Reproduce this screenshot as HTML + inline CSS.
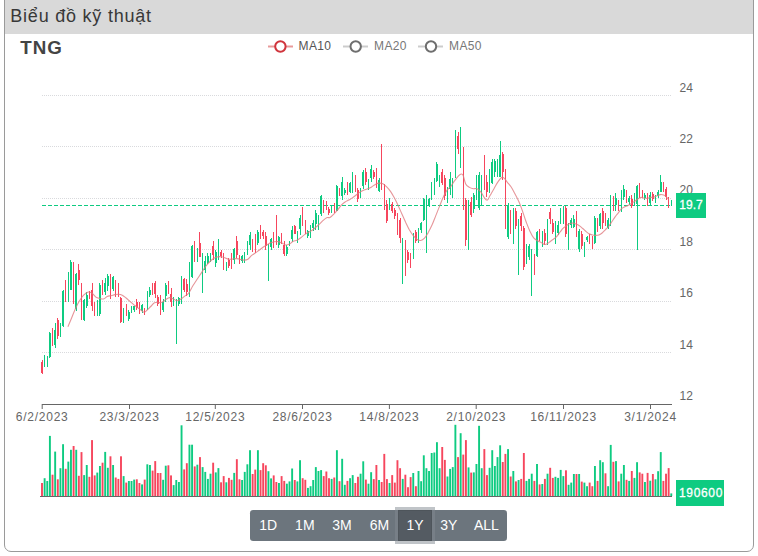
<!DOCTYPE html>
<html><head><meta charset="utf-8">
<style>
html,body{margin:0;padding:0;background:#fff;}
body{width:758px;height:556px;position:relative;overflow:hidden;font-family:"Liberation Sans",sans-serif;}
.card{position:absolute;left:4px;top:-12px;width:748px;height:562px;border:1px solid #9a9a9a;border-radius:7px;box-sizing:content-box;}
.hdr{position:absolute;left:5px;top:0;width:748px;height:34px;background:#d9d9d9;}
svg{position:absolute;left:0;top:0;}
.btns{position:absolute;left:250px;top:510px;width:257.4px;height:30.5px;background:#6c757d;border-radius:3.2px;}
.b{position:absolute;top:510px;height:30px;line-height:30px;font-size:14px;color:#fff;text-align:center;}
.shadow{position:absolute;left:394.8px;top:506.8px;width:40.4px;height:36.9px;background:rgba(130,138,145,0.5);}
.act{position:absolute;left:398px;top:510px;width:32px;height:28.5px;background:#545b62;border:1px solid #4e555b;}
</style></head><body>
<div class="card"></div>
<div class="hdr"></div>

<svg width="758" height="556" viewBox="0 0 758 556">
<text x="10.3" y="21.6" font-family="'Liberation Sans', sans-serif" font-size="18" fill="#383838" letter-spacing="0.78">Biểu đồ kỹ thuật</text>
<text x="20.3" y="53.8" font-family="'Liberation Sans', sans-serif" font-size="18.8" font-weight="bold" fill="#444" letter-spacing="0.9">TNG</text>
<g font-family="'Liberation Sans', sans-serif" font-size="12" fill="#555" letter-spacing="0.4">
<line x1="268" y1="46.5" x2="293" y2="46.5" stroke="#e89a9a" stroke-width="2"/>
<circle cx="280.4" cy="46.5" r="5.2" fill="#fff" stroke="#d0343c" stroke-width="2"/>
<text x="298.5" y="49.8" fill="#555">MA10</text>
<line x1="343" y1="46.5" x2="368" y2="46.5" stroke="#cccccc" stroke-width="2"/>
<circle cx="355.7" cy="46.5" r="5.2" fill="#fff" stroke="#6e6e6e" stroke-width="2"/>
<text x="374" y="49.8" fill="#777">MA20</text>
<line x1="418" y1="46.5" x2="443" y2="46.5" stroke="#cccccc" stroke-width="2"/>
<circle cx="431" cy="46.5" r="5.2" fill="#fff" stroke="#6e6e6e" stroke-width="2"/>
<text x="449" y="49.8" fill="#777">MA50</text>
</g>
<line x1="42" y1="95.5" x2="672" y2="95.5" stroke="#d9dadd" stroke-width="1" stroke-dasharray="1,1"/>
<line x1="42" y1="146.5" x2="672" y2="146.5" stroke="#d9dadd" stroke-width="1" stroke-dasharray="1,1"/>
<line x1="42" y1="198.5" x2="672" y2="198.5" stroke="#d9dadd" stroke-width="1" stroke-dasharray="1,1"/>
<line x1="42" y1="249.5" x2="672" y2="249.5" stroke="#d9dadd" stroke-width="1" stroke-dasharray="1,1"/>
<line x1="42" y1="301.5" x2="672" y2="301.5" stroke="#d9dadd" stroke-width="1" stroke-dasharray="1,1"/>
<line x1="42" y1="352.5" x2="672" y2="352.5" stroke="#d9dadd" stroke-width="1" stroke-dasharray="1,1"/>
<g font-family="'Liberation Sans', sans-serif" font-size="12" fill="#666">
<text x="679.5" y="91.5">24</text>
<text x="679.5" y="142.9">22</text>
<text x="679.5" y="194.4">20</text>
<text x="679.5" y="245.8">18</text>
<text x="679.5" y="297.3">16</text>
<text x="679.5" y="348.7">14</text>
<text x="679.5" y="400.1">12</text>
<line x1="42.2" y1="404" x2="42.2" y2="409" stroke="#666" stroke-width="1"/>
<text x="42.2" y="420.5" text-anchor="middle" letter-spacing="0.75">6/2/2023</text>
<line x1="129.5" y1="404" x2="129.5" y2="409" stroke="#666" stroke-width="1"/>
<text x="129.5" y="420.5" text-anchor="middle" letter-spacing="0.75">23/3/2023</text>
<line x1="215.3" y1="404" x2="215.3" y2="409" stroke="#666" stroke-width="1"/>
<text x="215.3" y="420.5" text-anchor="middle" letter-spacing="0.75">12/5/2023</text>
<line x1="302.5" y1="404" x2="302.5" y2="409" stroke="#666" stroke-width="1"/>
<text x="302.5" y="420.5" text-anchor="middle" letter-spacing="0.75">28/6/2023</text>
<line x1="389.4" y1="404" x2="389.4" y2="409" stroke="#666" stroke-width="1"/>
<text x="389.4" y="420.5" text-anchor="middle" letter-spacing="0.75">14/8/2023</text>
<line x1="476.2" y1="404" x2="476.2" y2="409" stroke="#666" stroke-width="1"/>
<text x="476.2" y="420.5" text-anchor="middle" letter-spacing="0.75">2/10/2023</text>
<line x1="563.5" y1="404" x2="563.5" y2="409" stroke="#666" stroke-width="1"/>
<text x="563.5" y="420.5" text-anchor="middle" letter-spacing="0.75">16/11/2023</text>
<line x1="650.5" y1="404" x2="650.5" y2="409" stroke="#666" stroke-width="1"/>
<text x="650.5" y="420.5" text-anchor="middle" letter-spacing="0.75">3/1/2024</text>
</g>
<line x1="42" y1="404.5" x2="672" y2="404.5" stroke="#666" stroke-width="1"/>
<line x1="42" y1="205.5" x2="672" y2="205.5" stroke="#0ecb81" stroke-width="1" stroke-dasharray="4,2"/>
<g shape-rendering="crispEdges"><rect x="42" y="360" width="1" height="14" fill="#f6465d"/>
<rect x="41" y="362" width="2" height="11" fill="#f6465d"/>
<rect x="44" y="355" width="1" height="12" fill="#0ecb81"/>
<rect x="44" y="358" width="1" height="8" fill="#0ecb81"/>
<rect x="47" y="356" width="1" height="11" fill="#0ecb81"/>
<rect x="47" y="358" width="1" height="7" fill="#0ecb81"/>
<rect x="49" y="332" width="1" height="26" fill="#0ecb81"/>
<rect x="49" y="333" width="2" height="24" fill="#0ecb81"/>
<rect x="52" y="328" width="1" height="18" fill="#f6465d"/>
<rect x="52" y="330" width="1" height="11" fill="#f6465d"/>
<rect x="55" y="323" width="1" height="25" fill="#0ecb81"/>
<rect x="54" y="330" width="2" height="15" fill="#0ecb81"/>
<rect x="57" y="318" width="1" height="21" fill="#f6465d"/>
<rect x="57" y="320" width="2" height="16" fill="#f6465d"/>
<rect x="60" y="323" width="1" height="14" fill="#0ecb81"/>
<rect x="60" y="325" width="1" height="9" fill="#0ecb81"/>
<rect x="63" y="290" width="1" height="37" fill="#0ecb81"/>
<rect x="62" y="291" width="2" height="35" fill="#0ecb81"/>
<rect x="65" y="280" width="1" height="22" fill="#f6465d"/>
<rect x="65" y="285" width="1" height="13" fill="#f6465d"/>
<rect x="68" y="272" width="1" height="30" fill="#0ecb81"/>
<rect x="68" y="278" width="1" height="13" fill="#0ecb81"/>
<rect x="70" y="260" width="1" height="30" fill="#0ecb81"/>
<rect x="70" y="262" width="2" height="28" fill="#0ecb81"/>
<rect x="73" y="262" width="1" height="42" fill="#f6465d"/>
<rect x="73" y="265" width="1" height="36" fill="#f6465d"/>
<rect x="76" y="273" width="1" height="38" fill="#0ecb81"/>
<rect x="75" y="274" width="2" height="35" fill="#0ecb81"/>
<rect x="78" y="264" width="1" height="21" fill="#f6465d"/>
<rect x="78" y="270" width="2" height="10" fill="#f6465d"/>
<rect x="81" y="283" width="1" height="37" fill="#f6465d"/>
<rect x="81" y="286" width="1" height="33" fill="#f6465d"/>
<rect x="84" y="299" width="1" height="22" fill="#0ecb81"/>
<rect x="83" y="300" width="2" height="20" fill="#0ecb81"/>
<rect x="86" y="292" width="1" height="16" fill="#0ecb81"/>
<rect x="86" y="295" width="2" height="11" fill="#0ecb81"/>
<rect x="89" y="291" width="1" height="8" fill="#f6465d"/>
<rect x="89" y="293" width="1" height="4" fill="#f6465d"/>
<rect x="92" y="283" width="1" height="28" fill="#f6465d"/>
<rect x="91" y="290" width="2" height="16" fill="#f6465d"/>
<rect x="94" y="302" width="1" height="14" fill="#f6465d"/>
<rect x="94" y="306" width="1" height="7" fill="#f6465d"/>
<rect x="97" y="300" width="1" height="16" fill="#0ecb81"/>
<rect x="97" y="304" width="1" height="9" fill="#0ecb81"/>
<rect x="99" y="283" width="1" height="33" fill="#0ecb81"/>
<rect x="99" y="285" width="2" height="29" fill="#0ecb81"/>
<rect x="102" y="280" width="1" height="15" fill="#f6465d"/>
<rect x="102" y="284" width="1" height="9" fill="#f6465d"/>
<rect x="105" y="278" width="1" height="17" fill="#0ecb81"/>
<rect x="104" y="283" width="2" height="9" fill="#0ecb81"/>
<rect x="107" y="274" width="1" height="17" fill="#0ecb81"/>
<rect x="107" y="276" width="2" height="10" fill="#0ecb81"/>
<rect x="110" y="274" width="1" height="25" fill="#f6465d"/>
<rect x="110" y="280" width="1" height="14" fill="#f6465d"/>
<rect x="113" y="276" width="1" height="15" fill="#0ecb81"/>
<rect x="112" y="277" width="2" height="12" fill="#0ecb81"/>
<rect x="115" y="280" width="1" height="17" fill="#f6465d"/>
<rect x="115" y="285" width="1" height="8" fill="#f6465d"/>
<rect x="118" y="283" width="1" height="14" fill="#f6465d"/>
<rect x="118" y="285" width="1" height="9" fill="#f6465d"/>
<rect x="120" y="297" width="1" height="26" fill="#f6465d"/>
<rect x="120" y="298" width="2" height="24" fill="#f6465d"/>
<rect x="123" y="308" width="1" height="15" fill="#0ecb81"/>
<rect x="123" y="311" width="1" height="9" fill="#0ecb81"/>
<rect x="126" y="304" width="1" height="12" fill="#f6465d"/>
<rect x="126" y="306" width="1" height="9" fill="#f6465d"/>
<rect x="128" y="310" width="1" height="11" fill="#0ecb81"/>
<rect x="128" y="312" width="2" height="7" fill="#0ecb81"/>
<rect x="131" y="306" width="1" height="7" fill="#0ecb81"/>
<rect x="131" y="308" width="1" height="4" fill="#0ecb81"/>
<rect x="134" y="306" width="1" height="6" fill="#0ecb81"/>
<rect x="133" y="306" width="2" height="4" fill="#0ecb81"/>
<rect x="136" y="299" width="1" height="11" fill="#f6465d"/>
<rect x="136" y="302" width="2" height="6" fill="#f6465d"/>
<rect x="139" y="302" width="1" height="12" fill="#f6465d"/>
<rect x="139" y="305" width="1" height="6" fill="#f6465d"/>
<rect x="142" y="304" width="1" height="9" fill="#0ecb81"/>
<rect x="141" y="305" width="2" height="6" fill="#0ecb81"/>
<rect x="144" y="308" width="1" height="7" fill="#f6465d"/>
<rect x="144" y="309" width="1" height="5" fill="#f6465d"/>
<rect x="147" y="291" width="1" height="19" fill="#0ecb81"/>
<rect x="147" y="296" width="1" height="11" fill="#0ecb81"/>
<rect x="149" y="287" width="1" height="10" fill="#0ecb81"/>
<rect x="149" y="290" width="2" height="5" fill="#0ecb81"/>
<rect x="152" y="283" width="1" height="12" fill="#f6465d"/>
<rect x="152" y="286" width="1" height="8" fill="#f6465d"/>
<rect x="155" y="281" width="1" height="17" fill="#f6465d"/>
<rect x="154" y="283" width="2" height="11" fill="#f6465d"/>
<rect x="157" y="295" width="1" height="11" fill="#f6465d"/>
<rect x="157" y="297" width="2" height="7" fill="#f6465d"/>
<rect x="160" y="295" width="1" height="20" fill="#f6465d"/>
<rect x="160" y="300" width="1" height="9" fill="#f6465d"/>
<rect x="163" y="299" width="1" height="13" fill="#0ecb81"/>
<rect x="162" y="302" width="2" height="8" fill="#0ecb81"/>
<rect x="165" y="283" width="1" height="19" fill="#0ecb81"/>
<rect x="165" y="285" width="2" height="11" fill="#0ecb81"/>
<rect x="168" y="281" width="1" height="13" fill="#f6465d"/>
<rect x="168" y="283" width="1" height="8" fill="#f6465d"/>
<rect x="171" y="288" width="1" height="19" fill="#f6465d"/>
<rect x="170" y="294" width="2" height="8" fill="#f6465d"/>
<rect x="173" y="297" width="1" height="9" fill="#0ecb81"/>
<rect x="173" y="300" width="1" height="4" fill="#0ecb81"/>
<rect x="176" y="299" width="1" height="45" fill="#0ecb81"/>
<rect x="176" y="299" width="1" height="7" fill="#0ecb81"/>
<rect x="178" y="297" width="1" height="9" fill="#0ecb81"/>
<rect x="178" y="298" width="2" height="6" fill="#0ecb81"/>
<rect x="181" y="276" width="1" height="28" fill="#0ecb81"/>
<rect x="181" y="282" width="1" height="19" fill="#0ecb81"/>
<rect x="184" y="278" width="1" height="14" fill="#f6465d"/>
<rect x="183" y="279" width="2" height="11" fill="#f6465d"/>
<rect x="186" y="279" width="1" height="17" fill="#f6465d"/>
<rect x="186" y="284" width="2" height="8" fill="#f6465d"/>
<rect x="189" y="262" width="1" height="35" fill="#0ecb81"/>
<rect x="189" y="264" width="1" height="32" fill="#0ecb81"/>
<rect x="192" y="245" width="1" height="33" fill="#0ecb81"/>
<rect x="191" y="246" width="2" height="31" fill="#0ecb81"/>
<rect x="194" y="241" width="1" height="21" fill="#f6465d"/>
<rect x="194" y="246" width="1" height="13" fill="#f6465d"/>
<rect x="197" y="248" width="1" height="14" fill="#0ecb81"/>
<rect x="197" y="251" width="1" height="7" fill="#0ecb81"/>
<rect x="199" y="232" width="1" height="25" fill="#f6465d"/>
<rect x="199" y="243" width="2" height="14" fill="#f6465d"/>
<rect x="202" y="253" width="1" height="40" fill="#0ecb81"/>
<rect x="202" y="255" width="1" height="20" fill="#0ecb81"/>
<rect x="205" y="256" width="1" height="17" fill="#0ecb81"/>
<rect x="204" y="261" width="2" height="9" fill="#0ecb81"/>
<rect x="207" y="253" width="1" height="11" fill="#0ecb81"/>
<rect x="207" y="256" width="2" height="7" fill="#0ecb81"/>
<rect x="210" y="253" width="1" height="9" fill="#0ecb81"/>
<rect x="210" y="254" width="1" height="5" fill="#0ecb81"/>
<rect x="213" y="241" width="1" height="19" fill="#f6465d"/>
<rect x="212" y="246" width="2" height="9" fill="#f6465d"/>
<rect x="215" y="250" width="1" height="17" fill="#0ecb81"/>
<rect x="215" y="252" width="2" height="11" fill="#0ecb81"/>
<rect x="218" y="239" width="1" height="21" fill="#0ecb81"/>
<rect x="218" y="245" width="1" height="12" fill="#0ecb81"/>
<rect x="221" y="250" width="1" height="8" fill="#f6465d"/>
<rect x="220" y="252" width="2" height="4" fill="#f6465d"/>
<rect x="223" y="253" width="1" height="17" fill="#f6465d"/>
<rect x="223" y="256" width="1" height="9" fill="#f6465d"/>
<rect x="226" y="262" width="1" height="9" fill="#0ecb81"/>
<rect x="226" y="264" width="1" height="5" fill="#0ecb81"/>
<rect x="228" y="258" width="1" height="10" fill="#f6465d"/>
<rect x="228" y="260" width="2" height="6" fill="#f6465d"/>
<rect x="231" y="253" width="1" height="16" fill="#f6465d"/>
<rect x="231" y="256" width="1" height="9" fill="#f6465d"/>
<rect x="234" y="248" width="1" height="16" fill="#0ecb81"/>
<rect x="233" y="249" width="2" height="11" fill="#0ecb81"/>
<rect x="236" y="236" width="1" height="22" fill="#f6465d"/>
<rect x="236" y="241" width="2" height="14" fill="#f6465d"/>
<rect x="239" y="255" width="1" height="9" fill="#f6465d"/>
<rect x="239" y="256" width="1" height="6" fill="#f6465d"/>
<rect x="242" y="255" width="1" height="8" fill="#0ecb81"/>
<rect x="241" y="256" width="2" height="5" fill="#0ecb81"/>
<rect x="244" y="252" width="1" height="11" fill="#0ecb81"/>
<rect x="244" y="255" width="1" height="7" fill="#0ecb81"/>
<rect x="247" y="241" width="1" height="14" fill="#0ecb81"/>
<rect x="247" y="245" width="1" height="7" fill="#0ecb81"/>
<rect x="250" y="232" width="1" height="18" fill="#0ecb81"/>
<rect x="249" y="235" width="2" height="10" fill="#0ecb81"/>
<rect x="252" y="239" width="1" height="13" fill="#f6465d"/>
<rect x="252" y="240" width="1" height="11" fill="#f6465d"/>
<rect x="255" y="234" width="1" height="19" fill="#f6465d"/>
<rect x="255" y="238" width="1" height="10" fill="#f6465d"/>
<rect x="257" y="230" width="1" height="15" fill="#0ecb81"/>
<rect x="257" y="232" width="2" height="11" fill="#0ecb81"/>
<rect x="260" y="225" width="1" height="14" fill="#f6465d"/>
<rect x="260" y="228" width="1" height="10" fill="#f6465d"/>
<rect x="263" y="230" width="1" height="9" fill="#f6465d"/>
<rect x="262" y="232" width="2" height="4" fill="#f6465d"/>
<rect x="265" y="232" width="1" height="18" fill="#f6465d"/>
<rect x="265" y="236" width="2" height="10" fill="#f6465d"/>
<rect x="268" y="244" width="1" height="37" fill="#0ecb81"/>
<rect x="268" y="244" width="1" height="25" fill="#0ecb81"/>
<rect x="271" y="238" width="1" height="12" fill="#0ecb81"/>
<rect x="270" y="239" width="2" height="8" fill="#0ecb81"/>
<rect x="273" y="232" width="1" height="16" fill="#f6465d"/>
<rect x="273" y="235" width="1" height="8" fill="#f6465d"/>
<rect x="276" y="215" width="1" height="30" fill="#f6465d"/>
<rect x="276" y="225" width="1" height="20" fill="#f6465d"/>
<rect x="278" y="236" width="1" height="12" fill="#0ecb81"/>
<rect x="278" y="237" width="2" height="8" fill="#0ecb81"/>
<rect x="281" y="233" width="1" height="11" fill="#f6465d"/>
<rect x="281" y="235" width="1" height="7" fill="#f6465d"/>
<rect x="284" y="241" width="1" height="15" fill="#f6465d"/>
<rect x="283" y="245" width="2" height="9" fill="#f6465d"/>
<rect x="286" y="245" width="1" height="11" fill="#0ecb81"/>
<rect x="286" y="247" width="2" height="7" fill="#0ecb81"/>
<rect x="289" y="241" width="1" height="5" fill="#0ecb81"/>
<rect x="289" y="242" width="1" height="3" fill="#0ecb81"/>
<rect x="292" y="226" width="1" height="16" fill="#0ecb81"/>
<rect x="291" y="230" width="2" height="9" fill="#0ecb81"/>
<rect x="294" y="225" width="1" height="9" fill="#f6465d"/>
<rect x="294" y="226" width="2" height="8" fill="#f6465d"/>
<rect x="297" y="231" width="1" height="12" fill="#0ecb81"/>
<rect x="297" y="234" width="1" height="7" fill="#0ecb81"/>
<rect x="300" y="215" width="1" height="20" fill="#0ecb81"/>
<rect x="299" y="218" width="2" height="11" fill="#0ecb81"/>
<rect x="302" y="207" width="1" height="19" fill="#f6465d"/>
<rect x="302" y="210" width="1" height="10" fill="#f6465d"/>
<rect x="305" y="220" width="1" height="14" fill="#f6465d"/>
<rect x="305" y="223" width="1" height="10" fill="#f6465d"/>
<rect x="307" y="230" width="1" height="8" fill="#0ecb81"/>
<rect x="307" y="231" width="2" height="5" fill="#0ecb81"/>
<rect x="310" y="225" width="1" height="13" fill="#0ecb81"/>
<rect x="310" y="227" width="1" height="9" fill="#0ecb81"/>
<rect x="313" y="220" width="1" height="11" fill="#0ecb81"/>
<rect x="312" y="223" width="2" height="5" fill="#0ecb81"/>
<rect x="315" y="210" width="1" height="20" fill="#0ecb81"/>
<rect x="315" y="213" width="2" height="11" fill="#0ecb81"/>
<rect x="318" y="215" width="1" height="15" fill="#0ecb81"/>
<rect x="318" y="219" width="1" height="7" fill="#0ecb81"/>
<rect x="321" y="195" width="1" height="21" fill="#0ecb81"/>
<rect x="320" y="196" width="2" height="18" fill="#0ecb81"/>
<rect x="323" y="200" width="1" height="13" fill="#f6465d"/>
<rect x="323" y="203" width="1" height="6" fill="#f6465d"/>
<rect x="326" y="201" width="1" height="9" fill="#f6465d"/>
<rect x="326" y="202" width="1" height="7" fill="#f6465d"/>
<rect x="328" y="207" width="1" height="8" fill="#f6465d"/>
<rect x="328" y="209" width="2" height="4" fill="#f6465d"/>
<rect x="331" y="205" width="1" height="8" fill="#0ecb81"/>
<rect x="331" y="207" width="1" height="5" fill="#0ecb81"/>
<rect x="334" y="203" width="1" height="10" fill="#f6465d"/>
<rect x="334" y="205" width="1" height="6" fill="#f6465d"/>
<rect x="336" y="185" width="1" height="26" fill="#0ecb81"/>
<rect x="336" y="186" width="2" height="25" fill="#0ecb81"/>
<rect x="339" y="188" width="1" height="8" fill="#f6465d"/>
<rect x="339" y="189" width="1" height="6" fill="#f6465d"/>
<rect x="342" y="177" width="1" height="23" fill="#0ecb81"/>
<rect x="341" y="182" width="2" height="14" fill="#0ecb81"/>
<rect x="344" y="188" width="1" height="7" fill="#0ecb81"/>
<rect x="344" y="190" width="2" height="3" fill="#0ecb81"/>
<rect x="347" y="182" width="1" height="13" fill="#f6465d"/>
<rect x="347" y="186" width="1" height="7" fill="#f6465d"/>
<rect x="350" y="182" width="1" height="11" fill="#0ecb81"/>
<rect x="349" y="183" width="2" height="9" fill="#0ecb81"/>
<rect x="352" y="172" width="1" height="21" fill="#0ecb81"/>
<rect x="352" y="177" width="1" height="13" fill="#0ecb81"/>
<rect x="355" y="175" width="1" height="17" fill="#f6465d"/>
<rect x="355" y="180" width="1" height="8" fill="#f6465d"/>
<rect x="357" y="188" width="1" height="14" fill="#f6465d"/>
<rect x="357" y="190" width="2" height="9" fill="#f6465d"/>
<rect x="360" y="188" width="1" height="10" fill="#0ecb81"/>
<rect x="360" y="189" width="1" height="7" fill="#0ecb81"/>
<rect x="363" y="170" width="1" height="19" fill="#0ecb81"/>
<rect x="362" y="172" width="2" height="14" fill="#0ecb81"/>
<rect x="365" y="168" width="1" height="17" fill="#f6465d"/>
<rect x="365" y="172" width="2" height="10" fill="#f6465d"/>
<rect x="368" y="179" width="1" height="11" fill="#0ecb81"/>
<rect x="368" y="182" width="1" height="6" fill="#0ecb81"/>
<rect x="371" y="165" width="1" height="17" fill="#0ecb81"/>
<rect x="370" y="169" width="2" height="9" fill="#0ecb81"/>
<rect x="373" y="170" width="1" height="9" fill="#f6465d"/>
<rect x="373" y="172" width="2" height="5" fill="#f6465d"/>
<rect x="376" y="168" width="1" height="20" fill="#f6465d"/>
<rect x="376" y="172" width="1" height="12" fill="#f6465d"/>
<rect x="379" y="178" width="1" height="14" fill="#0ecb81"/>
<rect x="378" y="180" width="2" height="11" fill="#0ecb81"/>
<rect x="381" y="144" width="1" height="46" fill="#f6465d"/>
<rect x="381" y="176" width="1" height="14" fill="#f6465d"/>
<rect x="384" y="184" width="1" height="26" fill="#f6465d"/>
<rect x="384" y="187" width="1" height="18" fill="#f6465d"/>
<rect x="386" y="200" width="1" height="23" fill="#f6465d"/>
<rect x="386" y="204" width="2" height="17" fill="#f6465d"/>
<rect x="389" y="198" width="1" height="12" fill="#0ecb81"/>
<rect x="389" y="201" width="1" height="8" fill="#0ecb81"/>
<rect x="392" y="202" width="1" height="11" fill="#f6465d"/>
<rect x="391" y="204" width="2" height="7" fill="#f6465d"/>
<rect x="394" y="208" width="1" height="11" fill="#f6465d"/>
<rect x="394" y="210" width="2" height="6" fill="#f6465d"/>
<rect x="397" y="213" width="1" height="22" fill="#f6465d"/>
<rect x="397" y="215" width="1" height="17" fill="#f6465d"/>
<rect x="400" y="218" width="1" height="25" fill="#f6465d"/>
<rect x="399" y="220" width="2" height="18" fill="#f6465d"/>
<rect x="402" y="238" width="1" height="46" fill="#0ecb81"/>
<rect x="402" y="238" width="1" height="14" fill="#0ecb81"/>
<rect x="405" y="240" width="1" height="36" fill="#f6465d"/>
<rect x="405" y="247" width="1" height="25" fill="#f6465d"/>
<rect x="407" y="250" width="1" height="13" fill="#f6465d"/>
<rect x="407" y="252" width="2" height="8" fill="#f6465d"/>
<rect x="410" y="253" width="1" height="15" fill="#f6465d"/>
<rect x="410" y="255" width="1" height="11" fill="#f6465d"/>
<rect x="413" y="233" width="1" height="26" fill="#0ecb81"/>
<rect x="413" y="235" width="1" height="19" fill="#0ecb81"/>
<rect x="415" y="230" width="1" height="13" fill="#f6465d"/>
<rect x="415" y="232" width="2" height="9" fill="#f6465d"/>
<rect x="418" y="228" width="1" height="15" fill="#0ecb81"/>
<rect x="418" y="232" width="1" height="9" fill="#0ecb81"/>
<rect x="421" y="222" width="1" height="11" fill="#0ecb81"/>
<rect x="420" y="223" width="2" height="7" fill="#0ecb81"/>
<rect x="423" y="198" width="1" height="23" fill="#0ecb81"/>
<rect x="423" y="199" width="2" height="21" fill="#0ecb81"/>
<rect x="426" y="195" width="1" height="58" fill="#0ecb81"/>
<rect x="426" y="195" width="1" height="24" fill="#0ecb81"/>
<rect x="429" y="198" width="1" height="9" fill="#0ecb81"/>
<rect x="428" y="199" width="2" height="6" fill="#0ecb81"/>
<rect x="431" y="182" width="1" height="18" fill="#0ecb81"/>
<rect x="431" y="185" width="1" height="10" fill="#0ecb81"/>
<rect x="434" y="178" width="1" height="17" fill="#0ecb81"/>
<rect x="434" y="179" width="1" height="14" fill="#0ecb81"/>
<rect x="436" y="162" width="1" height="20" fill="#0ecb81"/>
<rect x="436" y="164" width="2" height="17" fill="#0ecb81"/>
<rect x="439" y="175" width="1" height="12" fill="#0ecb81"/>
<rect x="439" y="179" width="1" height="5" fill="#0ecb81"/>
<rect x="442" y="169" width="1" height="16" fill="#f6465d"/>
<rect x="441" y="172" width="2" height="11" fill="#f6465d"/>
<rect x="444" y="175" width="1" height="25" fill="#f6465d"/>
<rect x="444" y="178" width="2" height="18" fill="#f6465d"/>
<rect x="447" y="187" width="1" height="16" fill="#0ecb81"/>
<rect x="447" y="189" width="1" height="10" fill="#0ecb81"/>
<rect x="450" y="172" width="1" height="23" fill="#0ecb81"/>
<rect x="449" y="179" width="2" height="10" fill="#0ecb81"/>
<rect x="452" y="178" width="1" height="20" fill="#0ecb81"/>
<rect x="452" y="181" width="1" height="13" fill="#0ecb81"/>
<rect x="455" y="130" width="1" height="48" fill="#0ecb81"/>
<rect x="455" y="141" width="1" height="37" fill="#0ecb81"/>
<rect x="458" y="132" width="1" height="22" fill="#f6465d"/>
<rect x="457" y="136" width="2" height="13" fill="#f6465d"/>
<rect x="460" y="127" width="1" height="41" fill="#0ecb81"/>
<rect x="460" y="134" width="1" height="26" fill="#0ecb81"/>
<rect x="463" y="147" width="1" height="63" fill="#f6465d"/>
<rect x="463" y="150" width="1" height="54" fill="#f6465d"/>
<rect x="465" y="198" width="1" height="48" fill="#f6465d"/>
<rect x="465" y="200" width="2" height="40" fill="#f6465d"/>
<rect x="468" y="200" width="1" height="50" fill="#0ecb81"/>
<rect x="468" y="201" width="1" height="47" fill="#0ecb81"/>
<rect x="471" y="197" width="1" height="20" fill="#f6465d"/>
<rect x="470" y="202" width="2" height="13" fill="#f6465d"/>
<rect x="473" y="193" width="1" height="20" fill="#0ecb81"/>
<rect x="473" y="195" width="2" height="14" fill="#0ecb81"/>
<rect x="476" y="175" width="1" height="25" fill="#0ecb81"/>
<rect x="476" y="180" width="1" height="13" fill="#0ecb81"/>
<rect x="479" y="172" width="1" height="38" fill="#0ecb81"/>
<rect x="478" y="175" width="2" height="33" fill="#0ecb81"/>
<rect x="481" y="175" width="1" height="30" fill="#0ecb81"/>
<rect x="481" y="184" width="1" height="16" fill="#0ecb81"/>
<rect x="484" y="155" width="1" height="35" fill="#f6465d"/>
<rect x="484" y="158" width="1" height="30" fill="#f6465d"/>
<rect x="486" y="175" width="1" height="22" fill="#f6465d"/>
<rect x="486" y="182" width="2" height="10" fill="#f6465d"/>
<rect x="489" y="169" width="1" height="24" fill="#0ecb81"/>
<rect x="489" y="175" width="1" height="15" fill="#0ecb81"/>
<rect x="492" y="159" width="1" height="25" fill="#0ecb81"/>
<rect x="491" y="162" width="2" height="21" fill="#0ecb81"/>
<rect x="494" y="159" width="1" height="18" fill="#0ecb81"/>
<rect x="494" y="161" width="2" height="11" fill="#0ecb81"/>
<rect x="497" y="159" width="1" height="18" fill="#0ecb81"/>
<rect x="497" y="162" width="1" height="12" fill="#0ecb81"/>
<rect x="500" y="141" width="1" height="36" fill="#0ecb81"/>
<rect x="499" y="155" width="2" height="22" fill="#0ecb81"/>
<rect x="502" y="152" width="1" height="28" fill="#f6465d"/>
<rect x="502" y="154" width="2" height="18" fill="#f6465d"/>
<rect x="505" y="169" width="1" height="60" fill="#f6465d"/>
<rect x="505" y="173" width="1" height="56" fill="#f6465d"/>
<rect x="508" y="203" width="1" height="36" fill="#0ecb81"/>
<rect x="507" y="205" width="2" height="32" fill="#0ecb81"/>
<rect x="510" y="210" width="1" height="24" fill="#f6465d"/>
<rect x="510" y="214" width="1" height="15" fill="#f6465d"/>
<rect x="513" y="208" width="1" height="36" fill="#0ecb81"/>
<rect x="513" y="210" width="1" height="31" fill="#0ecb81"/>
<rect x="515" y="208" width="1" height="21" fill="#f6465d"/>
<rect x="515" y="211" width="2" height="15" fill="#f6465d"/>
<rect x="518" y="219" width="1" height="56" fill="#0ecb81"/>
<rect x="518" y="220" width="1" height="42" fill="#0ecb81"/>
<rect x="521" y="213" width="1" height="18" fill="#f6465d"/>
<rect x="520" y="216" width="2" height="10" fill="#f6465d"/>
<rect x="523" y="226" width="1" height="44" fill="#f6465d"/>
<rect x="523" y="228" width="2" height="39" fill="#f6465d"/>
<rect x="526" y="244" width="1" height="20" fill="#0ecb81"/>
<rect x="526" y="248" width="1" height="11" fill="#0ecb81"/>
<rect x="529" y="244" width="1" height="16" fill="#0ecb81"/>
<rect x="528" y="246" width="2" height="11" fill="#0ecb81"/>
<rect x="531" y="249" width="1" height="47" fill="#0ecb81"/>
<rect x="531" y="249" width="1" height="10" fill="#0ecb81"/>
<rect x="534" y="254" width="1" height="21" fill="#f6465d"/>
<rect x="534" y="258" width="1" height="12" fill="#f6465d"/>
<rect x="537" y="231" width="1" height="26" fill="#0ecb81"/>
<rect x="536" y="232" width="2" height="24" fill="#0ecb81"/>
<rect x="539" y="229" width="1" height="12" fill="#f6465d"/>
<rect x="539" y="232" width="1" height="6" fill="#f6465d"/>
<rect x="542" y="231" width="1" height="16" fill="#0ecb81"/>
<rect x="542" y="233" width="1" height="12" fill="#0ecb81"/>
<rect x="544" y="229" width="1" height="16" fill="#f6465d"/>
<rect x="544" y="233" width="2" height="8" fill="#f6465d"/>
<rect x="547" y="219" width="1" height="26" fill="#0ecb81"/>
<rect x="547" y="224" width="1" height="18" fill="#0ecb81"/>
<rect x="550" y="208" width="1" height="16" fill="#f6465d"/>
<rect x="549" y="212" width="2" height="7" fill="#f6465d"/>
<rect x="552" y="219" width="1" height="15" fill="#f6465d"/>
<rect x="552" y="223" width="2" height="9" fill="#f6465d"/>
<rect x="555" y="221" width="1" height="23" fill="#0ecb81"/>
<rect x="555" y="227" width="1" height="14" fill="#0ecb81"/>
<rect x="558" y="221" width="1" height="14" fill="#0ecb81"/>
<rect x="557" y="225" width="2" height="8" fill="#0ecb81"/>
<rect x="560" y="208" width="1" height="16" fill="#0ecb81"/>
<rect x="560" y="212" width="1" height="9" fill="#0ecb81"/>
<rect x="563" y="206" width="1" height="18" fill="#0ecb81"/>
<rect x="563" y="209" width="1" height="10" fill="#0ecb81"/>
<rect x="565" y="206" width="1" height="31" fill="#f6465d"/>
<rect x="565" y="208" width="2" height="26" fill="#f6465d"/>
<rect x="568" y="223" width="1" height="27" fill="#0ecb81"/>
<rect x="568" y="225" width="1" height="23" fill="#0ecb81"/>
<rect x="571" y="218" width="1" height="10" fill="#0ecb81"/>
<rect x="570" y="220" width="2" height="5" fill="#0ecb81"/>
<rect x="573" y="215" width="1" height="13" fill="#0ecb81"/>
<rect x="573" y="219" width="2" height="8" fill="#0ecb81"/>
<rect x="576" y="211" width="1" height="26" fill="#f6465d"/>
<rect x="576" y="212" width="1" height="23" fill="#f6465d"/>
<rect x="579" y="229" width="1" height="23" fill="#0ecb81"/>
<rect x="578" y="231" width="2" height="18" fill="#0ecb81"/>
<rect x="581" y="231" width="1" height="18" fill="#f6465d"/>
<rect x="581" y="234" width="2" height="12" fill="#f6465d"/>
<rect x="584" y="242" width="1" height="15" fill="#0ecb81"/>
<rect x="584" y="246" width="1" height="7" fill="#0ecb81"/>
<rect x="587" y="236" width="1" height="6" fill="#0ecb81"/>
<rect x="586" y="237" width="2" height="3" fill="#0ecb81"/>
<rect x="589" y="234" width="1" height="10" fill="#f6465d"/>
<rect x="589" y="237" width="1" height="5" fill="#f6465d"/>
<rect x="592" y="236" width="1" height="13" fill="#f6465d"/>
<rect x="592" y="237" width="1" height="10" fill="#f6465d"/>
<rect x="594" y="216" width="1" height="28" fill="#0ecb81"/>
<rect x="594" y="218" width="2" height="25" fill="#0ecb81"/>
<rect x="597" y="218" width="1" height="14" fill="#f6465d"/>
<rect x="597" y="219" width="1" height="11" fill="#f6465d"/>
<rect x="600" y="213" width="1" height="16" fill="#0ecb81"/>
<rect x="599" y="214" width="2" height="12" fill="#0ecb81"/>
<rect x="602" y="208" width="1" height="21" fill="#f6465d"/>
<rect x="602" y="211" width="2" height="12" fill="#f6465d"/>
<rect x="605" y="213" width="1" height="13" fill="#f6465d"/>
<rect x="605" y="216" width="1" height="6" fill="#f6465d"/>
<rect x="608" y="218" width="1" height="11" fill="#0ecb81"/>
<rect x="607" y="220" width="2" height="8" fill="#0ecb81"/>
<rect x="610" y="195" width="1" height="31" fill="#0ecb81"/>
<rect x="610" y="197" width="1" height="27" fill="#0ecb81"/>
<rect x="613" y="196" width="1" height="15" fill="#f6465d"/>
<rect x="613" y="198" width="1" height="10" fill="#f6465d"/>
<rect x="615" y="193" width="1" height="18" fill="#0ecb81"/>
<rect x="615" y="198" width="2" height="7" fill="#0ecb81"/>
<rect x="618" y="200" width="1" height="11" fill="#f6465d"/>
<rect x="618" y="202" width="1" height="6" fill="#f6465d"/>
<rect x="621" y="190" width="1" height="22" fill="#0ecb81"/>
<rect x="621" y="196" width="1" height="13" fill="#0ecb81"/>
<rect x="623" y="185" width="1" height="15" fill="#0ecb81"/>
<rect x="623" y="189" width="2" height="8" fill="#0ecb81"/>
<rect x="626" y="190" width="1" height="13" fill="#f6465d"/>
<rect x="626" y="194" width="1" height="7" fill="#f6465d"/>
<rect x="629" y="196" width="1" height="9" fill="#0ecb81"/>
<rect x="628" y="198" width="2" height="4" fill="#0ecb81"/>
<rect x="631" y="195" width="1" height="13" fill="#f6465d"/>
<rect x="631" y="199" width="2" height="7" fill="#f6465d"/>
<rect x="634" y="193" width="1" height="13" fill="#0ecb81"/>
<rect x="634" y="196" width="1" height="7" fill="#0ecb81"/>
<rect x="637" y="185" width="1" height="65" fill="#0ecb81"/>
<rect x="636" y="186" width="2" height="18" fill="#0ecb81"/>
<rect x="639" y="183" width="1" height="15" fill="#f6465d"/>
<rect x="639" y="186" width="1" height="9" fill="#f6465d"/>
<rect x="642" y="190" width="1" height="8" fill="#f6465d"/>
<rect x="642" y="191" width="1" height="6" fill="#f6465d"/>
<rect x="644" y="193" width="1" height="7" fill="#0ecb81"/>
<rect x="644" y="195" width="2" height="3" fill="#0ecb81"/>
<rect x="647" y="193" width="1" height="13" fill="#f6465d"/>
<rect x="647" y="195" width="1" height="7" fill="#f6465d"/>
<rect x="650" y="192" width="1" height="13" fill="#0ecb81"/>
<rect x="649" y="195" width="2" height="8" fill="#0ecb81"/>
<rect x="652" y="192" width="1" height="9" fill="#f6465d"/>
<rect x="652" y="194" width="2" height="5" fill="#f6465d"/>
<rect x="655" y="195" width="1" height="8" fill="#0ecb81"/>
<rect x="655" y="196" width="1" height="5" fill="#0ecb81"/>
<rect x="658" y="190" width="1" height="8" fill="#0ecb81"/>
<rect x="657" y="192" width="2" height="4" fill="#0ecb81"/>
<rect x="660" y="175" width="1" height="17" fill="#0ecb81"/>
<rect x="660" y="182" width="2" height="10" fill="#0ecb81"/>
<rect x="663" y="182" width="1" height="10" fill="#f6465d"/>
<rect x="663" y="185" width="1" height="7" fill="#f6465d"/>
<rect x="666" y="187" width="1" height="13" fill="#f6465d"/>
<rect x="665" y="189" width="2" height="8" fill="#f6465d"/>
<rect x="668" y="197" width="1" height="11" fill="#f6465d"/>
<rect x="668" y="199" width="1" height="7" fill="#f6465d"/>
<rect x="671" y="200" width="1" height="6" fill="#0ecb81"/>
<rect x="671" y="202" width="1" height="3" fill="#0ecb81"/></g>
<path d="M67.9,326.7 C68.5,325.4 70.1,321.7 71.3,318.8 C72.5,315.9 73.8,312.2 75.1,309.4 C76.4,306.6 77.5,304.2 78.9,301.8 C80.3,299.4 82.0,296.8 83.6,295.2 C85.2,293.6 86.9,292.3 88.3,292.0 C89.7,291.7 90.8,292.4 92.1,293.3 C93.4,294.2 94.6,296.2 95.9,297.1 C97.2,298.0 98.4,298.1 99.7,298.4 C101.0,298.7 102.2,299.3 103.5,299.0 C104.8,298.7 106.0,297.1 107.2,296.5 C108.5,295.9 109.7,296.0 111.0,295.7 C112.3,295.4 113.5,294.9 114.8,294.6 C116.1,294.4 117.3,294.1 118.6,294.2 C119.8,294.3 121.0,294.6 122.3,295.2 C123.5,295.8 124.8,297.0 126.1,298.0 C127.4,299.0 128.6,300.3 129.9,301.4 C131.2,302.5 132.4,303.6 133.7,304.6 C135.0,305.6 136.2,306.6 137.5,307.5 C138.8,308.4 140.1,309.5 141.2,310.3 C142.3,311.1 143.1,312.2 144.1,312.2 C145.1,312.2 145.8,311.2 146.9,310.3 C148.0,309.4 149.4,307.8 150.7,306.5 C152.0,305.2 153.2,303.3 154.5,302.7 C155.8,302.1 156.9,302.8 158.2,302.7 C159.4,302.6 160.7,302.7 162.0,302.2 C163.3,301.7 164.5,300.3 165.8,299.5 C167.1,298.7 168.3,297.7 169.6,297.6 C170.9,297.5 172.2,298.5 173.4,299.0 C174.7,299.5 175.8,300.8 177.1,300.8 C178.3,300.8 179.6,299.8 180.9,299.0 C182.2,298.2 183.4,297.1 184.7,296.1 C186.0,295.2 187.2,294.9 188.5,293.3 C189.8,291.7 191.1,288.8 192.3,286.7 C193.6,284.6 194.8,282.9 196.0,281.0 C197.2,279.1 198.1,277.8 199.8,275.3 C201.5,272.8 203.7,268.9 206.0,266.0 C208.3,263.1 211.3,259.8 213.9,258.2 C216.5,256.6 218.9,256.5 221.4,256.7 C223.9,256.9 226.5,258.9 229.0,259.2 C231.5,259.5 234.1,258.5 236.6,258.6 C239.1,258.8 242.2,260.0 244.1,260.1 C246.0,260.2 246.6,260.0 247.9,259.2 C249.2,258.4 250.1,256.7 251.7,255.4 C253.3,254.1 255.4,252.9 257.3,251.6 C259.2,250.2 261.4,248.4 263.0,247.3 C264.6,246.2 265.5,245.8 266.8,245.0 C268.1,244.2 269.4,243.3 270.6,242.8 C271.9,242.3 273.1,242.0 274.3,241.8 C275.6,241.6 276.8,241.4 278.1,241.6 C279.4,241.8 280.6,242.5 281.9,243.1 C283.2,243.7 284.4,244.8 285.7,245.0 C287.0,245.2 288.2,244.7 289.5,244.1 C290.8,243.5 291.9,241.8 293.2,241.2 C294.4,240.6 295.7,240.9 297.0,240.3 C298.3,239.7 299.5,238.8 300.8,237.8 C302.1,236.9 303.3,235.5 304.6,234.6 C305.9,233.7 307.1,232.9 308.4,232.2 C309.6,231.5 310.9,231.2 312.1,230.3 C313.4,229.5 314.6,228.2 315.9,227.1 C317.2,226.0 318.4,225.1 319.7,223.9 C321.0,222.7 322.2,221.2 323.5,220.1 C324.8,219.0 326.1,218.0 327.2,217.6 C328.3,217.2 328.9,218.1 330.0,217.5 C331.1,216.9 332.5,215.4 333.8,214.1 C335.1,212.8 336.4,211.4 337.6,209.9 C338.9,208.4 340.1,206.5 341.3,205.2 C342.6,203.9 343.8,202.8 345.1,202.0 C346.4,201.2 347.6,200.8 348.9,200.1 C350.2,199.4 351.4,198.5 352.7,197.6 C354.0,196.7 355.2,195.7 356.5,194.8 C357.8,193.9 358.9,192.8 360.2,192.0 C361.4,191.2 362.7,190.7 364.0,190.1 C365.3,189.5 366.5,189.2 367.8,188.7 C369.1,188.2 370.4,187.6 371.6,186.9 C372.9,186.2 374.1,185.0 375.3,184.4 C376.6,183.8 377.8,183.2 379.1,183.1 C380.4,183.0 381.6,183.2 382.9,183.8 C384.2,184.4 385.4,185.6 386.7,186.9 C388.0,188.2 389.2,189.6 390.5,191.4 C391.8,193.2 392.9,195.3 394.2,197.6 C395.4,199.9 396.7,202.5 398.0,205.2 C399.3,207.9 400.5,210.9 401.8,213.7 C403.1,216.5 404.4,219.5 405.6,222.2 C406.9,224.9 408.1,227.5 409.3,229.7 C410.6,231.9 411.8,233.8 413.1,235.4 C414.4,237.0 415.6,238.3 416.9,239.2 C418.2,240.0 419.4,240.7 420.7,240.5 C422.0,240.3 423.2,239.5 424.5,238.2 C425.8,236.9 426.9,234.8 428.2,232.6 C429.4,230.4 430.7,227.8 432.0,225.0 C433.3,222.2 434.5,218.8 435.8,215.6 C437.1,212.4 438.3,209.2 439.6,206.1 C440.9,202.9 442.1,199.4 443.4,196.7 C444.6,194.0 445.9,191.8 447.1,190.1 C448.4,188.4 449.6,187.9 450.9,186.3 C452.2,184.7 453.4,182.3 454.7,180.6 C456.0,178.9 457.4,177.0 458.5,175.9 C459.6,174.8 460.5,174.1 461.3,174.0 C462.1,173.9 462.5,173.8 463.2,175.5 C463.9,177.2 464.7,182.0 465.7,184.0 C466.7,186.0 468.1,186.6 469.4,187.4 C470.6,188.2 471.9,188.5 473.2,188.7 C474.5,188.9 475.7,188.2 477.0,188.7 C478.3,189.2 479.5,190.3 480.8,191.9 C482.1,193.5 483.5,196.8 484.6,198.2 C485.7,199.6 486.5,200.6 487.4,200.1 C488.3,199.6 489.1,197.2 490.2,195.3 C491.3,193.4 492.7,190.9 494.0,188.7 C495.3,186.5 496.5,184.0 497.8,182.1 C499.1,180.2 500.5,178.0 501.6,177.4 C502.7,176.8 503.5,177.5 504.4,178.3 C505.3,179.1 506.1,180.7 507.2,182.1 C508.3,183.5 509.7,184.9 511.0,186.8 C512.3,188.7 513.5,191.1 514.8,193.5 C516.1,195.9 517.4,198.2 518.6,201.0 C519.9,203.8 521.0,207.0 522.3,210.5 C523.5,214.0 524.8,218.4 526.1,221.8 C527.4,225.2 528.6,228.5 529.9,231.2 C531.2,233.9 532.4,236.3 533.7,237.9 C535.0,239.5 536.2,239.9 537.5,240.7 C538.8,241.5 540.0,242.0 541.2,242.6 C542.5,243.2 543.7,244.5 545.0,244.5 C546.3,244.5 547.5,243.4 548.8,242.6 C550.1,241.8 551.3,240.6 552.6,239.7 C553.9,238.8 555.1,238.2 556.4,236.9 C557.6,235.6 559.0,233.4 560.1,232.0 C561.2,230.6 562.1,229.2 563.2,228.2 C564.3,227.1 565.4,226.5 566.5,225.7 C567.6,224.9 568.6,224.0 569.7,223.6 C570.8,223.2 571.9,222.9 573.0,223.0 C574.1,223.1 575.1,223.7 576.2,224.1 C577.3,224.5 578.3,225.0 579.4,225.7 C580.5,226.4 581.6,227.6 582.7,228.5 C583.8,229.4 584.8,230.5 585.9,231.4 C587.0,232.3 588.0,233.2 589.1,233.8 C590.2,234.4 591.3,234.7 592.4,235.0 C593.5,235.3 594.5,235.4 595.6,235.4 C596.7,235.4 597.8,235.4 598.9,235.0 C600.0,234.6 601.0,233.9 602.1,233.0 C603.2,232.1 604.2,230.9 605.3,229.8 C606.4,228.7 607.5,227.8 608.6,226.5 C609.7,225.2 610.7,223.3 611.8,221.7 C612.9,220.1 614.0,218.3 615.1,216.8 C616.2,215.3 617.2,214.2 618.3,212.8 C619.4,211.5 620.4,209.7 621.5,208.7 C622.6,207.7 623.7,207.3 624.8,206.8 C625.9,206.3 626.9,206.1 628.0,205.5 C629.1,204.9 630.2,204.2 631.3,203.5 C632.4,202.8 633.4,202.2 634.5,201.4 C635.6,200.7 636.6,199.7 637.7,199.0 C638.8,198.3 639.9,197.5 641.0,197.4 C642.1,197.3 643.1,198.1 644.2,198.2 C645.3,198.3 646.3,198.3 647.4,198.2 C648.5,198.1 649.6,197.6 650.7,197.4 C651.8,197.2 652.8,197.4 653.9,197.1 C655.0,196.8 656.1,196.2 657.2,195.8 C658.3,195.4 659.3,194.7 660.4,194.6 C661.5,194.5 662.6,194.7 663.6,195.0 C664.6,195.3 665.3,195.8 666.1,196.6 C666.9,197.3 668.2,199.0 668.6,199.5" fill="none" stroke="#e07a80" stroke-opacity="0.8" stroke-width="1.1"/>
<rect x="41.05" y="483.0" width="1.9" height="13.0" fill="#f6465d"/>
<rect x="43.68" y="478.2" width="1.9" height="17.8" fill="#0ecb81"/>
<rect x="46.32" y="481.0" width="1.9" height="15.0" fill="#0ecb81"/>
<rect x="48.95" y="435.9" width="1.9" height="60.1" fill="#0ecb81"/>
<rect x="51.58" y="474.7" width="1.9" height="21.3" fill="#f6465d"/>
<rect x="54.21" y="451.6" width="1.9" height="44.4" fill="#0ecb81"/>
<rect x="56.85" y="479.3" width="1.9" height="16.7" fill="#f6465d"/>
<rect x="59.48" y="468.2" width="1.9" height="27.8" fill="#0ecb81"/>
<rect x="62.11" y="444.2" width="1.9" height="51.8" fill="#0ecb81"/>
<rect x="64.75" y="468.8" width="1.9" height="27.2" fill="#f6465d"/>
<rect x="67.38" y="461.6" width="1.9" height="34.4" fill="#0ecb81"/>
<rect x="70.01" y="449.8" width="1.9" height="46.2" fill="#0ecb81"/>
<rect x="72.65" y="446.0" width="1.9" height="50.0" fill="#f6465d"/>
<rect x="75.28" y="449.8" width="1.9" height="46.2" fill="#0ecb81"/>
<rect x="77.91" y="475.8" width="1.9" height="20.2" fill="#f6465d"/>
<rect x="80.55" y="452.1" width="1.9" height="43.9" fill="#f6465d"/>
<rect x="83.18" y="475.1" width="1.9" height="20.9" fill="#0ecb81"/>
<rect x="85.81" y="465.0" width="1.9" height="31.0" fill="#0ecb81"/>
<rect x="88.44" y="476.8" width="1.9" height="19.2" fill="#f6465d"/>
<rect x="91.08" y="440.1" width="1.9" height="55.9" fill="#f6465d"/>
<rect x="93.71" y="475.4" width="1.9" height="20.6" fill="#f6465d"/>
<rect x="96.34" y="472.6" width="1.9" height="23.4" fill="#0ecb81"/>
<rect x="98.98" y="466.0" width="1.9" height="30.0" fill="#0ecb81"/>
<rect x="101.61" y="462.7" width="1.9" height="33.3" fill="#f6465d"/>
<rect x="104.24" y="451.9" width="1.9" height="44.1" fill="#0ecb81"/>
<rect x="106.88" y="467.8" width="1.9" height="28.2" fill="#0ecb81"/>
<rect x="109.51" y="456.3" width="1.9" height="39.7" fill="#f6465d"/>
<rect x="112.14" y="465.0" width="1.9" height="31.0" fill="#0ecb81"/>
<rect x="114.77" y="477.5" width="1.9" height="18.5" fill="#f6465d"/>
<rect x="117.41" y="478.9" width="1.9" height="17.1" fill="#f6465d"/>
<rect x="120.04" y="456.3" width="1.9" height="39.7" fill="#f6465d"/>
<rect x="122.67" y="476.1" width="1.9" height="19.9" fill="#0ecb81"/>
<rect x="125.31" y="482.6" width="1.9" height="13.4" fill="#f6465d"/>
<rect x="127.94" y="481.0" width="1.9" height="15.0" fill="#0ecb81"/>
<rect x="130.57" y="481.0" width="1.9" height="15.0" fill="#0ecb81"/>
<rect x="133.21" y="479.6" width="1.9" height="16.4" fill="#0ecb81"/>
<rect x="135.84" y="479.3" width="1.9" height="16.7" fill="#f6465d"/>
<rect x="138.47" y="483.0" width="1.9" height="13.0" fill="#f6465d"/>
<rect x="141.10" y="484.4" width="1.9" height="11.6" fill="#0ecb81"/>
<rect x="143.74" y="479.6" width="1.9" height="16.4" fill="#f6465d"/>
<rect x="146.37" y="464.3" width="1.9" height="31.7" fill="#0ecb81"/>
<rect x="149.00" y="465.0" width="1.9" height="31.0" fill="#0ecb81"/>
<rect x="151.64" y="470.6" width="1.9" height="25.4" fill="#f6465d"/>
<rect x="154.27" y="461.1" width="1.9" height="34.9" fill="#f6465d"/>
<rect x="156.90" y="473.0" width="1.9" height="23.0" fill="#f6465d"/>
<rect x="159.54" y="473.0" width="1.9" height="23.0" fill="#f6465d"/>
<rect x="162.17" y="479.8" width="1.9" height="16.2" fill="#0ecb81"/>
<rect x="164.80" y="465.7" width="1.9" height="30.3" fill="#0ecb81"/>
<rect x="167.43" y="465.3" width="1.9" height="30.7" fill="#f6465d"/>
<rect x="170.07" y="475.4" width="1.9" height="20.6" fill="#f6465d"/>
<rect x="172.70" y="485.1" width="1.9" height="10.9" fill="#0ecb81"/>
<rect x="175.33" y="480.0" width="1.9" height="16.0" fill="#0ecb81"/>
<rect x="177.97" y="482.0" width="1.9" height="14.0" fill="#0ecb81"/>
<rect x="180.60" y="425.3" width="1.9" height="70.7" fill="#0ecb81"/>
<rect x="183.23" y="469.4" width="1.9" height="26.6" fill="#f6465d"/>
<rect x="185.87" y="463.2" width="1.9" height="32.8" fill="#f6465d"/>
<rect x="188.50" y="444.7" width="1.9" height="51.3" fill="#0ecb81"/>
<rect x="191.13" y="444.7" width="1.9" height="51.3" fill="#0ecb81"/>
<rect x="193.76" y="466.4" width="1.9" height="29.6" fill="#f6465d"/>
<rect x="196.40" y="464.7" width="1.9" height="31.3" fill="#0ecb81"/>
<rect x="199.03" y="457.1" width="1.9" height="38.9" fill="#f6465d"/>
<rect x="201.66" y="467.1" width="1.9" height="28.9" fill="#0ecb81"/>
<rect x="204.30" y="471.9" width="1.9" height="24.1" fill="#0ecb81"/>
<rect x="206.93" y="478.9" width="1.9" height="17.1" fill="#0ecb81"/>
<rect x="209.56" y="473.7" width="1.9" height="22.3" fill="#0ecb81"/>
<rect x="212.20" y="462.7" width="1.9" height="33.3" fill="#f6465d"/>
<rect x="214.83" y="472.4" width="1.9" height="23.6" fill="#0ecb81"/>
<rect x="217.46" y="468.1" width="1.9" height="27.9" fill="#0ecb81"/>
<rect x="220.09" y="482.3" width="1.9" height="13.7" fill="#f6465d"/>
<rect x="222.73" y="476.1" width="1.9" height="19.9" fill="#f6465d"/>
<rect x="225.36" y="482.3" width="1.9" height="13.7" fill="#0ecb81"/>
<rect x="227.99" y="477.9" width="1.9" height="18.1" fill="#f6465d"/>
<rect x="230.63" y="479.8" width="1.9" height="16.2" fill="#f6465d"/>
<rect x="233.26" y="472.9" width="1.9" height="23.1" fill="#0ecb81"/>
<rect x="235.89" y="459.2" width="1.9" height="36.8" fill="#f6465d"/>
<rect x="238.53" y="479.3" width="1.9" height="16.7" fill="#f6465d"/>
<rect x="241.16" y="480.0" width="1.9" height="16.0" fill="#0ecb81"/>
<rect x="243.79" y="471.9" width="1.9" height="24.1" fill="#0ecb81"/>
<rect x="246.42" y="464.3" width="1.9" height="31.7" fill="#0ecb81"/>
<rect x="249.06" y="450.2" width="1.9" height="45.8" fill="#0ecb81"/>
<rect x="251.69" y="474.0" width="1.9" height="22.0" fill="#f6465d"/>
<rect x="254.32" y="469.6" width="1.9" height="26.4" fill="#f6465d"/>
<rect x="256.96" y="450.2" width="1.9" height="45.8" fill="#0ecb81"/>
<rect x="259.59" y="470.1" width="1.9" height="25.9" fill="#f6465d"/>
<rect x="262.22" y="463.2" width="1.9" height="32.8" fill="#f6465d"/>
<rect x="264.86" y="465.3" width="1.9" height="30.7" fill="#f6465d"/>
<rect x="267.49" y="471.2" width="1.9" height="24.8" fill="#0ecb81"/>
<rect x="270.12" y="478.4" width="1.9" height="17.6" fill="#0ecb81"/>
<rect x="272.75" y="475.4" width="1.9" height="20.6" fill="#f6465d"/>
<rect x="275.39" y="482.0" width="1.9" height="14.0" fill="#f6465d"/>
<rect x="278.02" y="483.0" width="1.9" height="13.0" fill="#0ecb81"/>
<rect x="280.65" y="476.1" width="1.9" height="19.9" fill="#f6465d"/>
<rect x="283.29" y="480.9" width="1.9" height="15.1" fill="#f6465d"/>
<rect x="285.92" y="483.7" width="1.9" height="12.3" fill="#0ecb81"/>
<rect x="288.55" y="481.4" width="1.9" height="14.6" fill="#0ecb81"/>
<rect x="291.19" y="468.5" width="1.9" height="27.5" fill="#0ecb81"/>
<rect x="293.82" y="480.0" width="1.9" height="16.0" fill="#f6465d"/>
<rect x="296.45" y="481.4" width="1.9" height="14.6" fill="#0ecb81"/>
<rect x="299.08" y="460.2" width="1.9" height="35.8" fill="#0ecb81"/>
<rect x="301.72" y="478.2" width="1.9" height="17.8" fill="#f6465d"/>
<rect x="304.35" y="479.8" width="1.9" height="16.2" fill="#f6465d"/>
<rect x="306.98" y="487.9" width="1.9" height="8.1" fill="#0ecb81"/>
<rect x="309.62" y="486.2" width="1.9" height="9.8" fill="#0ecb81"/>
<rect x="312.25" y="480.0" width="1.9" height="16.0" fill="#0ecb81"/>
<rect x="314.88" y="467.1" width="1.9" height="28.9" fill="#0ecb81"/>
<rect x="317.51" y="471.0" width="1.9" height="25.0" fill="#0ecb81"/>
<rect x="320.15" y="470.1" width="1.9" height="25.9" fill="#0ecb81"/>
<rect x="322.78" y="476.1" width="1.9" height="19.9" fill="#f6465d"/>
<rect x="325.41" y="471.5" width="1.9" height="24.5" fill="#f6465d"/>
<rect x="328.05" y="478.2" width="1.9" height="17.8" fill="#f6465d"/>
<rect x="330.68" y="478.9" width="1.9" height="17.1" fill="#0ecb81"/>
<rect x="333.31" y="477.5" width="1.9" height="18.5" fill="#f6465d"/>
<rect x="335.95" y="450.2" width="1.9" height="45.8" fill="#0ecb81"/>
<rect x="338.58" y="481.2" width="1.9" height="14.8" fill="#f6465d"/>
<rect x="341.21" y="458.8" width="1.9" height="37.2" fill="#0ecb81"/>
<rect x="343.85" y="484.8" width="1.9" height="11.2" fill="#0ecb81"/>
<rect x="346.48" y="480.9" width="1.9" height="15.1" fill="#f6465d"/>
<rect x="349.11" y="478.2" width="1.9" height="17.8" fill="#0ecb81"/>
<rect x="351.74" y="475.1" width="1.9" height="20.9" fill="#0ecb81"/>
<rect x="354.38" y="483.0" width="1.9" height="13.0" fill="#f6465d"/>
<rect x="357.01" y="476.8" width="1.9" height="19.2" fill="#f6465d"/>
<rect x="359.64" y="473.7" width="1.9" height="22.3" fill="#0ecb81"/>
<rect x="362.28" y="461.3" width="1.9" height="34.7" fill="#0ecb81"/>
<rect x="364.91" y="479.6" width="1.9" height="16.4" fill="#f6465d"/>
<rect x="367.54" y="483.7" width="1.9" height="12.3" fill="#0ecb81"/>
<rect x="370.18" y="472.2" width="1.9" height="23.8" fill="#0ecb81"/>
<rect x="372.81" y="479.1" width="1.9" height="16.9" fill="#f6465d"/>
<rect x="375.44" y="465.0" width="1.9" height="31.0" fill="#f6465d"/>
<rect x="378.07" y="480.0" width="1.9" height="16.0" fill="#0ecb81"/>
<rect x="380.71" y="482.0" width="1.9" height="14.0" fill="#f6465d"/>
<rect x="383.34" y="453.9" width="1.9" height="42.1" fill="#f6465d"/>
<rect x="385.97" y="479.1" width="1.9" height="16.9" fill="#f6465d"/>
<rect x="388.61" y="483.0" width="1.9" height="13.0" fill="#0ecb81"/>
<rect x="391.24" y="475.1" width="1.9" height="20.9" fill="#f6465d"/>
<rect x="393.87" y="482.6" width="1.9" height="13.4" fill="#f6465d"/>
<rect x="396.50" y="460.2" width="1.9" height="35.8" fill="#f6465d"/>
<rect x="399.14" y="468.2" width="1.9" height="27.8" fill="#f6465d"/>
<rect x="401.77" y="478.9" width="1.9" height="17.1" fill="#0ecb81"/>
<rect x="404.40" y="474.7" width="1.9" height="21.3" fill="#f6465d"/>
<rect x="407.04" y="487.2" width="1.9" height="8.8" fill="#f6465d"/>
<rect x="409.67" y="477.1" width="1.9" height="18.9" fill="#f6465d"/>
<rect x="412.30" y="473.0" width="1.9" height="23.0" fill="#0ecb81"/>
<rect x="414.94" y="486.2" width="1.9" height="9.8" fill="#f6465d"/>
<rect x="417.57" y="471.0" width="1.9" height="25.0" fill="#0ecb81"/>
<rect x="420.20" y="481.2" width="1.9" height="14.8" fill="#0ecb81"/>
<rect x="422.84" y="455.3" width="1.9" height="40.7" fill="#0ecb81"/>
<rect x="425.47" y="468.2" width="1.9" height="27.8" fill="#0ecb81"/>
<rect x="428.10" y="471.0" width="1.9" height="25.0" fill="#0ecb81"/>
<rect x="430.73" y="453.0" width="1.9" height="43.0" fill="#0ecb81"/>
<rect x="433.37" y="452.5" width="1.9" height="43.5" fill="#0ecb81"/>
<rect x="436.00" y="442.2" width="1.9" height="53.8" fill="#0ecb81"/>
<rect x="438.63" y="468.2" width="1.9" height="27.8" fill="#0ecb81"/>
<rect x="441.27" y="447.0" width="1.9" height="49.0" fill="#f6465d"/>
<rect x="443.90" y="459.9" width="1.9" height="36.1" fill="#f6465d"/>
<rect x="446.53" y="476.5" width="1.9" height="19.5" fill="#0ecb81"/>
<rect x="449.17" y="468.9" width="1.9" height="27.1" fill="#0ecb81"/>
<rect x="451.80" y="467.1" width="1.9" height="28.9" fill="#0ecb81"/>
<rect x="454.43" y="424.8" width="1.9" height="71.2" fill="#0ecb81"/>
<rect x="457.06" y="457.1" width="1.9" height="38.9" fill="#f6465d"/>
<rect x="459.70" y="433.2" width="1.9" height="62.8" fill="#0ecb81"/>
<rect x="462.33" y="454.6" width="1.9" height="41.4" fill="#f6465d"/>
<rect x="464.96" y="440.1" width="1.9" height="55.9" fill="#f6465d"/>
<rect x="467.60" y="467.4" width="1.9" height="28.6" fill="#0ecb81"/>
<rect x="470.23" y="472.6" width="1.9" height="23.4" fill="#f6465d"/>
<rect x="472.86" y="472.4" width="1.9" height="23.6" fill="#0ecb81"/>
<rect x="475.50" y="464.0" width="1.9" height="32.0" fill="#0ecb81"/>
<rect x="478.13" y="425.8" width="1.9" height="70.2" fill="#0ecb81"/>
<rect x="480.76" y="468.2" width="1.9" height="27.8" fill="#0ecb81"/>
<rect x="483.39" y="449.1" width="1.9" height="46.9" fill="#f6465d"/>
<rect x="486.03" y="475.1" width="1.9" height="20.9" fill="#f6465d"/>
<rect x="488.66" y="467.8" width="1.9" height="28.2" fill="#0ecb81"/>
<rect x="491.29" y="450.2" width="1.9" height="45.8" fill="#0ecb81"/>
<rect x="493.93" y="466.0" width="1.9" height="30.0" fill="#0ecb81"/>
<rect x="496.56" y="457.1" width="1.9" height="38.9" fill="#0ecb81"/>
<rect x="499.19" y="445.3" width="1.9" height="50.7" fill="#0ecb81"/>
<rect x="501.82" y="462.0" width="1.9" height="34.0" fill="#f6465d"/>
<rect x="504.46" y="453.9" width="1.9" height="42.1" fill="#f6465d"/>
<rect x="507.09" y="449.1" width="1.9" height="46.9" fill="#0ecb81"/>
<rect x="509.72" y="476.5" width="1.9" height="19.5" fill="#f6465d"/>
<rect x="512.36" y="471.0" width="1.9" height="25.0" fill="#0ecb81"/>
<rect x="514.99" y="481.4" width="1.9" height="14.6" fill="#f6465d"/>
<rect x="517.62" y="480.0" width="1.9" height="16.0" fill="#0ecb81"/>
<rect x="520.26" y="478.9" width="1.9" height="17.1" fill="#f6465d"/>
<rect x="522.89" y="453.0" width="1.9" height="43.0" fill="#f6465d"/>
<rect x="525.52" y="480.9" width="1.9" height="15.1" fill="#0ecb81"/>
<rect x="528.15" y="478.9" width="1.9" height="17.1" fill="#0ecb81"/>
<rect x="530.79" y="473.7" width="1.9" height="22.3" fill="#0ecb81"/>
<rect x="533.42" y="480.9" width="1.9" height="15.1" fill="#f6465d"/>
<rect x="536.05" y="464.0" width="1.9" height="32.0" fill="#0ecb81"/>
<rect x="538.69" y="484.4" width="1.9" height="11.6" fill="#f6465d"/>
<rect x="541.32" y="484.0" width="1.9" height="12.0" fill="#0ecb81"/>
<rect x="543.95" y="478.9" width="1.9" height="17.1" fill="#f6465d"/>
<rect x="546.59" y="473.7" width="1.9" height="22.3" fill="#0ecb81"/>
<rect x="549.22" y="467.8" width="1.9" height="28.2" fill="#f6465d"/>
<rect x="551.85" y="477.9" width="1.9" height="18.1" fill="#f6465d"/>
<rect x="554.48" y="476.8" width="1.9" height="19.2" fill="#0ecb81"/>
<rect x="557.12" y="477.9" width="1.9" height="18.1" fill="#0ecb81"/>
<rect x="559.75" y="469.9" width="1.9" height="26.1" fill="#0ecb81"/>
<rect x="562.38" y="476.1" width="1.9" height="19.9" fill="#0ecb81"/>
<rect x="565.02" y="470.3" width="1.9" height="25.7" fill="#f6465d"/>
<rect x="567.65" y="484.8" width="1.9" height="11.2" fill="#0ecb81"/>
<rect x="570.28" y="482.6" width="1.9" height="13.4" fill="#0ecb81"/>
<rect x="572.92" y="474.0" width="1.9" height="22.0" fill="#0ecb81"/>
<rect x="575.55" y="474.0" width="1.9" height="22.0" fill="#f6465d"/>
<rect x="578.18" y="474.0" width="1.9" height="22.0" fill="#0ecb81"/>
<rect x="580.81" y="481.6" width="1.9" height="14.4" fill="#f6465d"/>
<rect x="583.45" y="482.6" width="1.9" height="13.4" fill="#0ecb81"/>
<rect x="586.08" y="486.2" width="1.9" height="9.8" fill="#0ecb81"/>
<rect x="588.71" y="482.6" width="1.9" height="13.4" fill="#f6465d"/>
<rect x="591.35" y="486.2" width="1.9" height="9.8" fill="#f6465d"/>
<rect x="593.98" y="466.0" width="1.9" height="30.0" fill="#0ecb81"/>
<rect x="596.61" y="480.9" width="1.9" height="15.1" fill="#f6465d"/>
<rect x="599.25" y="460.2" width="1.9" height="35.8" fill="#0ecb81"/>
<rect x="601.88" y="462.2" width="1.9" height="33.8" fill="#0ecb81"/>
<rect x="604.51" y="473.3" width="1.9" height="22.7" fill="#f6465d"/>
<rect x="607.14" y="486.2" width="1.9" height="9.8" fill="#0ecb81"/>
<rect x="609.78" y="444.9" width="1.9" height="51.1" fill="#0ecb81"/>
<rect x="612.41" y="461.8" width="1.9" height="34.2" fill="#f6465d"/>
<rect x="615.04" y="461.1" width="1.9" height="34.9" fill="#0ecb81"/>
<rect x="617.68" y="481.4" width="1.9" height="14.6" fill="#f6465d"/>
<rect x="620.31" y="473.7" width="1.9" height="22.3" fill="#0ecb81"/>
<rect x="622.94" y="465.0" width="1.9" height="31.0" fill="#0ecb81"/>
<rect x="625.58" y="479.8" width="1.9" height="16.2" fill="#f6465d"/>
<rect x="628.21" y="480.9" width="1.9" height="15.1" fill="#0ecb81"/>
<rect x="630.84" y="471.0" width="1.9" height="25.0" fill="#f6465d"/>
<rect x="633.47" y="477.9" width="1.9" height="18.1" fill="#0ecb81"/>
<rect x="636.11" y="462.2" width="1.9" height="33.8" fill="#0ecb81"/>
<rect x="638.74" y="472.4" width="1.9" height="23.6" fill="#f6465d"/>
<rect x="641.37" y="473.7" width="1.9" height="22.3" fill="#f6465d"/>
<rect x="644.01" y="482.0" width="1.9" height="14.0" fill="#0ecb81"/>
<rect x="646.64" y="472.9" width="1.9" height="23.1" fill="#f6465d"/>
<rect x="649.27" y="480.7" width="1.9" height="15.3" fill="#0ecb81"/>
<rect x="651.91" y="474.0" width="1.9" height="22.0" fill="#f6465d"/>
<rect x="654.54" y="479.3" width="1.9" height="16.7" fill="#0ecb81"/>
<rect x="657.17" y="471.2" width="1.9" height="24.8" fill="#0ecb81"/>
<rect x="659.80" y="452.1" width="1.9" height="43.9" fill="#0ecb81"/>
<rect x="662.44" y="480.9" width="1.9" height="15.1" fill="#f6465d"/>
<rect x="665.07" y="473.7" width="1.9" height="22.3" fill="#f6465d"/>
<rect x="667.70" y="468.1" width="1.9" height="27.9" fill="#f6465d"/>
<rect x="670.34" y="493.4" width="1.9" height="2.6" fill="#0ecb81"/>
<line x1="40" y1="496.5" x2="672" y2="496.5" stroke="#666" stroke-width="1"/>
<rect x="676" y="193" width="30" height="25" fill="#0ecb81"/>
<text x="691" y="208.7" text-anchor="middle" font-family="'Liberation Sans', sans-serif" font-size="12" fill="#fff" stroke="#fff" stroke-width="0.3">19.7</text>
<rect x="676" y="480" width="48" height="26" fill="#0ecb81"/>
<text x="701" y="496.6" text-anchor="middle" font-family="'Liberation Sans', sans-serif" font-size="12" fill="#fff" stroke="#fff" stroke-width="0.3" letter-spacing="0.65">190600</text>
</svg>
<div class="btns"></div>
<div class="shadow"></div>
<div class="act"></div>
<div class="b" style="left:250px;width:36.5px">1D</div>
<div class="b" style="left:286.5px;width:36.7px">1M</div>
<div class="b" style="left:323.2px;width:37.7px">3M</div>
<div class="b" style="left:360.9px;width:37.1px">6M</div>
<div class="b" style="left:398px;width:34.0px">1Y</div>
<div class="b" style="left:432px;width:33.5px">3Y</div>
<div class="b" style="left:465.5px;width:41.9px">ALL</div>
</body></html>
